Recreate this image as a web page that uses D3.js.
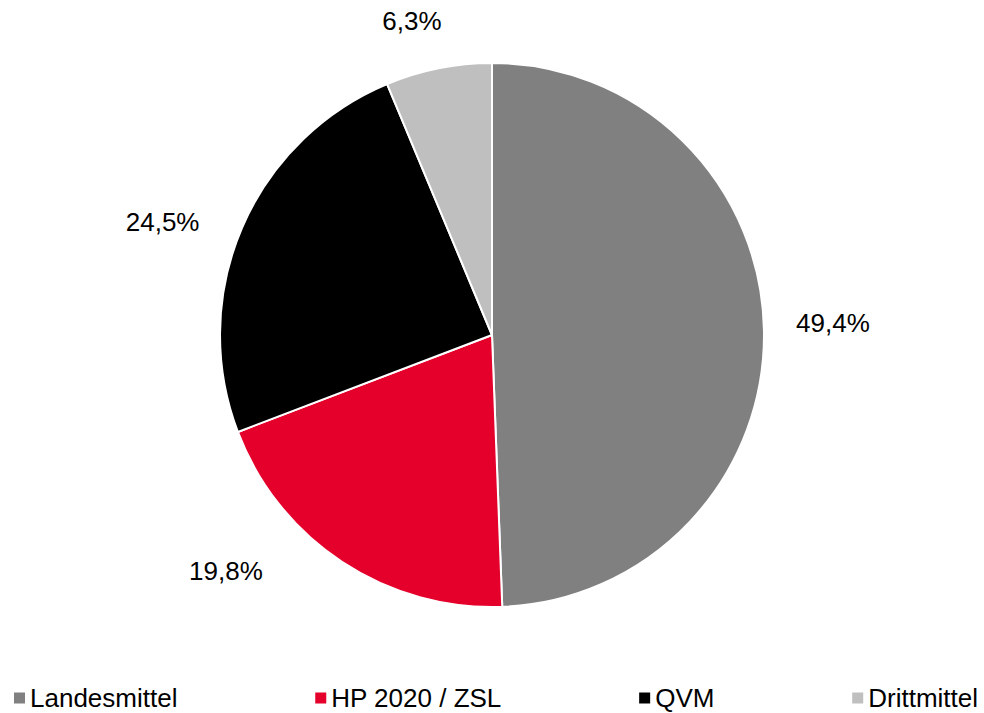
<!DOCTYPE html>
<html>
<head>
<meta charset="utf-8">
<script src="https://cdn.jsdelivr.net/npm/d3@7"></script>
<style>
  body { margin: 0; background: #fff; }
  svg text { font-family: "Liberation Sans", Arial, sans-serif; fill: #000; }
</style>
</head>
<body>
<div id="chart"></div>
<script>
// data
const categories = ['Landesmittel', 'HP 2020 / ZSL', 'QVM', 'Drittmittel'];
const shares     = [49.4, 19.8, 24.5, 6.3];
const labels     = ['49,4%', '19,8%', '24,5%', '6,3%'];
const colors     = ['#808080', '#E4002B', '#000000', '#BFBFBF'];

const width = 984, height = 713;
const cx = 492, cy = 335, r = 272;

const svg = d3.select('#chart').append('svg')
    .attr('width', width)
    .attr('height', height);

const data = categories.map((c, i) => ({ cat: c, value: shares[i], label: labels[i], color: colors[i] }));

const pie = d3.pie().sort(null).value(d => d.value);
const arc = d3.arc().innerRadius(0).outerRadius(r);
const arcs = pie(data);

const g = svg.append('g').attr('transform', `translate(${cx},${cy})`);

g.selectAll('path')
  .data(arcs)
  .join('path')
    .attr('d', arc)
    .attr('fill', d => d.data.color)
    .attr('stroke', '#fff')
    .attr('stroke-width', 2)
    .attr('stroke-linejoin', 'round');

// labels outside the slice end, box edge just past the rim
const gap = 32, boxW = 74, boxH = 24;
// small hand adjustments, like the moved labels in the original
const nudge = {
  'Landesmittel':  [0, -6],
  'HP 2020 / ZSL': [-78, -28],
  'QVM':           [-16, 11],
  'Drittmittel':   [-13, -4]
};

function labelPos(d) {
  const a = (d.startAngle + d.endAngle) / 2;
  const n = nudge[d.data.cat] || [0, 0];
  return [
    (r + gap + boxW / 2) * Math.sin(a) + n[0],
    -(r + gap + boxH / 2) * Math.cos(a) + n[1]
  ];
}

g.selectAll('text.lbl')
  .data(arcs)
  .join('text')
    .attr('class', 'lbl')
    .attr('text-anchor', 'middle')
    .style('font-size', '26px')
    .attr('x', d => labelPos(d)[0])
    .attr('y', d => labelPos(d)[1] + 9.3)
    .text(d => d.data.label);

// legend, spread across the bottom
const legend = svg.append('g').attr('transform', `translate(0,698)`);
const items = legend.selectAll('g')
  .data(data)
  .join('g');

items.append('rect')
    .attr('width', 11).attr('height', 11)
    .attr('x', 1)
    .attr('y', -5.5)
    .attr('fill', d => d.color);

items.append('text')
    .attr('x', 17)
    .attr('y', 9)
    .style('font-size', '26px')
    .text(d => d.cat);

const widths = [];
items.each(function() { widths.push(this.getBBox().width); });
const left = 13, right = 977;
const space = (right - left - d3.sum(widths)) / (widths.length - 1);
let pos = left;
items.attr('transform', (d, i) => {
  const t = `translate(${pos},0)`;
  pos += widths[i] + space;
  return t;
});
</script>
</body>
</html>
